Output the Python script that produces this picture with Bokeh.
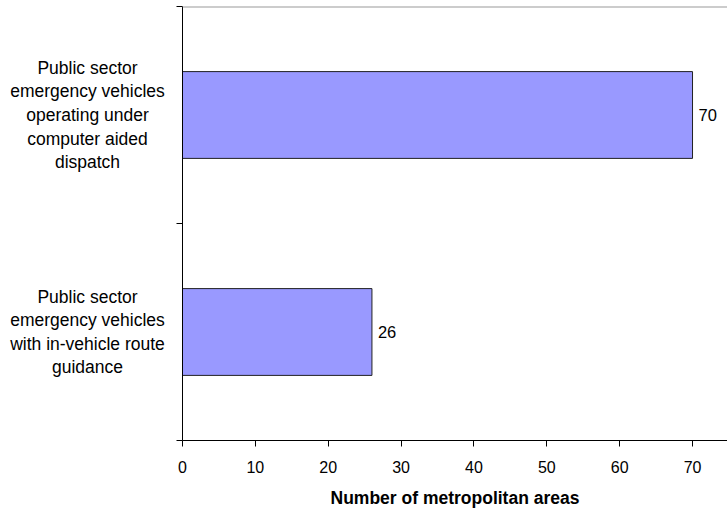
from bokeh.plotting import figure
from bokeh.layouts import row
from bokeh.models import (FactorRange, Range1d, LinearAxis, FixedTicker,
                          SingleIntervalTicker, Span, ColumnDataSource)
from bokeh.embed import file_html
from bokeh.resources import INLINE
from bokeh.core.properties import value

categories = [
    "Public sector\nemergency vehicles\noperating under\ncomputer aided\ndispatch",
    "Public sector\nemergency vehicles\nwith in-vehicle route\nguidance",
]
values = [70, 26]
x_tick_interval = 10
x_label = "Number of metropolitan areas"

FONT = "Liberation Sans"
H = 510
TOP, BOTTOM = 6, 70

src = ColumnDataSource(dict(cat=categories, val=values, lab=[str(v) for v in values],
                            mid=[0.5] * len(categories)))
yr = FactorRange(factors=categories[::-1])

# label panel
L = figure(width=174, height=H, output_backend="svg", toolbar_location=None,
           y_range=yr, x_range=Range1d(0, 1),
           x_axis_location=None, y_axis_location=None,
           min_border_left=0, min_border_right=0, min_border_top=TOP, min_border_bottom=BOTTOM)
L.outline_line_color = None
L.xgrid.visible = False
L.ygrid.visible = False
L.text(x="mid", y="cat", text="cat", source=src, text_align="center", text_baseline="middle",
       text_font=value(FONT), text_font_size="17.5px", text_color="black", text_line_height=1.18)

# main chart
p = figure(width=727 - 174, height=H, output_backend="svg", toolbar_location=None,
           y_range=yr, x_range=Range1d(0, 74.8),
           x_axis_location=None, y_axis_location=None,
           min_border_left=8, min_border_right=0, min_border_top=TOP, min_border_bottom=BOTTOM)
p.outline_line_color = None
p.xgrid.visible = False
p.ygrid.visible = False

p.hbar(y="cat", right="val", left=0, height=0.4, source=src,
       fill_color="#9999FF", line_color="#222222", line_width=1)
p.text(x="val", y="cat", text="lab", source=src, x_offset=6, text_baseline="middle",
       text_align="left", text_font=value(FONT), text_font_size="16.5px", text_color="black")

xa = LinearAxis(ticker=SingleIntervalTicker(interval=x_tick_interval),
                axis_label=x_label,
                axis_line_color="black", major_tick_line_color="black",
                major_tick_out=6, major_tick_in=0, minor_tick_line_color=None,
                major_label_standoff=14,
                major_label_text_font=FONT, major_label_text_font_size="16px",
                major_label_text_color="black",
                axis_label_text_font=FONT, axis_label_text_font_size="17.5px",
                axis_label_text_font_style="bold", axis_label_text_color="black",
                axis_label_standoff=12)
p.add_layout(xa, "below")

# category boundary ticks (synthetic coordinates of the factor range)
n = len(categories)
ta = LinearAxis(ticker=FixedTicker(ticks=list(range(n + 1))),
                major_label_overrides={i: "" for i in range(n + 1)},
                axis_line_color="black", major_tick_line_color="black",
                major_tick_out=6, major_tick_in=0, minor_tick_line_color=None,
                major_label_standoff=0, major_label_text_font_size="1px")
p.add_layout(ta, "left")

p.add_layout(Span(location=n, dimension="width", line_color="#999999", line_width=2))

layout = row(L, p, spacing=0)
open("out.html", "w").write(file_html(layout, INLINE))
